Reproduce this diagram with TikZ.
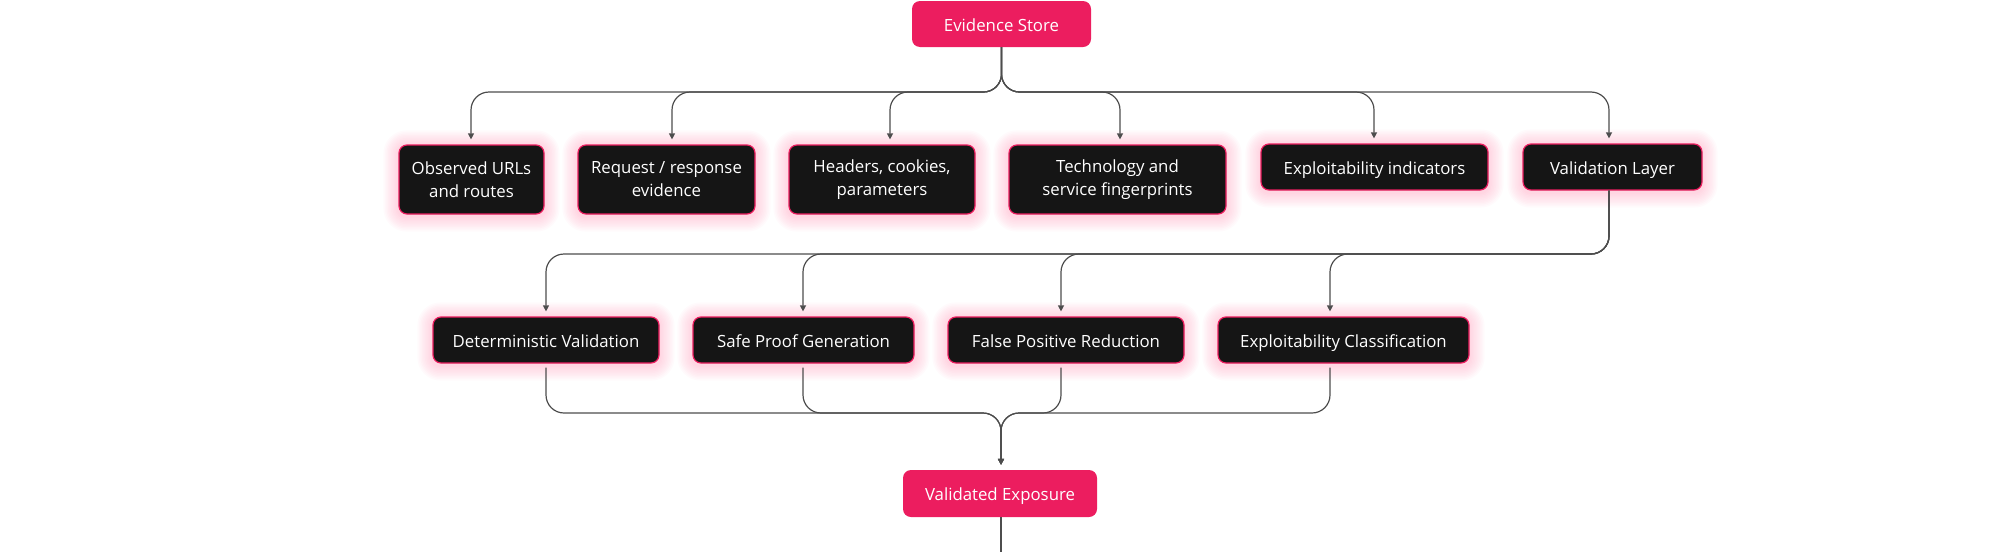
\documentclass[tikz,border=0pt]{standalone}
\usepackage{fontspec}
\setmainfont{Open Sans}
\usetikzlibrary{arrows.meta,backgrounds,calc}
\definecolor{pinkc}{HTML}{EC1D5F}
\definecolor{darkc}{HTML}{151515}
\definecolor{edgec}{HTML}{4D4D4D}
\definecolor{glowc}{HTML}{FF3D78}
\tikzset{
  base/.style={rounded corners=8pt, inner sep=0pt, align=center, text=white,
    font=\fontsize{16.8}{23}\selectfont},
  oneline/.style={text height=14.5pt, text depth=0pt},
  pinkbox/.style={base, oneline, fill=pinkc},
  darkbox/.style={base, fill=darkc, draw=pinkc, line width=1.2pt},
  edge/.style={draw=edgec, line width=1.2pt, rounded corners=18pt},
  arr/.style={edge, -{Triangle[width=6pt,length=6pt]}},
}
\newcommand\glowbox[1]{%
  \foreach \k [evaluate=\k as \r using 8+\k] in {1.5,3,...,15}{%
    \fill[glowc, opacity=0.024, rounded corners=\r pt]
      ($(#1.south west)+(-\k,\k+2)$) rectangle ($(#1.north east)+(\k,-\k+1)$);}}
\newcommand\topedge[2]{%
  \draw[arr] (es.south) -- (es.south |- hy) -- ($(#1.north |- hy)+(#2,0)$) -- ($(#1.north)+(#2,-5)$);}
\newcommand\midedge[2]{%
  \draw[arr] ($(val.south)+(-3.5,0)$) -- ($(val.south |- hyy)+(-3.5,0)$) -- ($(#1.north |- hyy)+(#2,0)$) -- ($(#1.north)+(#2,-5)$);}
\newcommand\botedge[2]{%
  \draw[arr] ($(#1.south)+(#2,4)$) -- ($(#1.south |- hyyy)+(#2,0)$) -- ($(vexp.north |- hyyy)+(1,0)$) -- ($(vexp.north)+(1,-5)$);}
\begin{document}
\begin{tikzpicture}[x=1pt,y=-1pt]
\useasboundingbox (0,0) rectangle (2000,552);
\coordinate (hy) at (0,92);
\coordinate (hyy) at (0,254);
\coordinate (hyyy) at (0,413);
\coordinate (bot) at (1001,552);

\node[pinkbox, minimum width=179pt, minimum height=46pt] (es) at (1001.5,24) {Evidence Store};

\node[darkbox, minimum width=145pt, minimum height=69pt] (obs) at (471.5,179.5) {Observed URLs\\and routes};
\node[darkbox, minimum width=177pt, minimum height=69pt] (req) at (666.5,179.5) {Request / response\\evidence};
\node[darkbox, minimum width=186pt, minimum height=69pt] (hdr) at (882,179.5) {Headers, cookies,\\parameters};
\node[darkbox, minimum width=217pt, minimum height=69pt] (tech) at (1117.5,179.5) {Technology and\\service fingerprints};
\node[darkbox, oneline, minimum width=227pt, minimum height=46pt] (expi) at (1374.5,167) {Exploitability indicators};
\node[darkbox, oneline, minimum width=179pt, minimum height=46pt] (val) at (1612.5,167) {Validation Layer};

\node[darkbox, oneline, minimum width=226pt, minimum height=46pt] (det) at (546,340) {Deterministic Validation};
\node[darkbox, oneline, minimum width=221pt, minimum height=46pt] (safe) at (803.5,340) {Safe Proof Generation};
\node[darkbox, oneline, minimum width=236pt, minimum height=46pt] (fpr) at (1066,340) {False Positive Reduction};
\node[darkbox, oneline, minimum width=251pt, minimum height=46pt] (ecl) at (1343.5,340) {Exploitability Classification};

\node[pinkbox, minimum width=194pt, minimum height=47pt] (vexp) at (1000,493.5) {Validated Exposure};

\begin{scope}[on background layer]
  \foreach \n in {obs,req,hdr,tech,expi,val,det,safe,fpr,ecl}{\glowbox{\n}}
\end{scope}

\topedge{obs}{-0.5}
\topedge{req}{5.5}
\topedge{hdr}{8}
\topedge{tech}{2.5}
\topedge{expi}{-0.5}
\topedge{val}{-3.5}

\midedge{det}{0}
\midedge{safe}{-0.5}
\midedge{fpr}{-5}
\midedge{ecl}{-13.5}

\botedge{det}{0}
\botedge{safe}{-0.5}
\botedge{fpr}{-5}
\botedge{ecl}{-13.5}

\draw[edge] (vexp.south -| bot) -- (bot);
\end{tikzpicture}
\end{document}
